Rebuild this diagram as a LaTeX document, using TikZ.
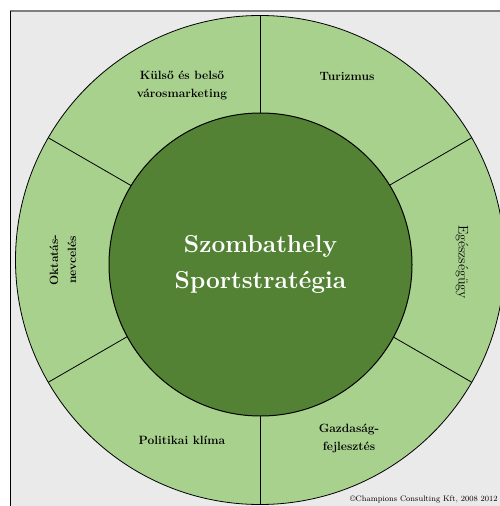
\documentclass[tikz,border=0pt]{standalone}
\usepackage{fontspec}
\definecolor{lightgreen}{HTML}{A9D18E}
\definecolor{darkgreen}{HTML}{548235}
\definecolor{backgray}{HTML}{EAEAEA}
\definecolor{framegray}{HTML}{7F7F7F}

\begin{document}
\begin{tikzpicture}[x=1pt, y=-1pt,
    topic/.style={font=\fontsize{12}{18}\selectfont\bfseries, align=center, text=black, inner sep=0pt},
    core/.style={draw, circle, fill=darkgreen, text=white, line width=1pt, minimum size=303pt, inner sep=0pt, font=\fontsize{24.5}{36}\selectfont\bfseries, align=center}]
    \useasboundingbox (0,0) rectangle (500,506);
    \clip (0,0) rectangle (500,506);
    \fill[white] (0,0) rectangle (500,506);
    \fill[backgray] (10,11) rectangle (500,506);
    \draw[framegray, line width=1.5pt] (10,11) -- (500,11);
    \draw[black, line width=1pt] (10.5,11) -- (10.5,506);
    \coordinate (o) at (260,260);
    \draw[fill=lightgreen, line width=0.8pt] (o) circle (244.5);
    \foreach \a in {30,90,...,330}
        \draw[line width=0.8pt] (o) -- ++(\a:244.5);
    \node (sport) [core] at (260.5,264.5) {Szombathely\\Sportstratégia};
    \node (marketing) [topic] at (182,85) {Külső és belső\\városmarketing};
    \node (turizmus) [topic] at (347,76) {Turizmus};
    \node (oktatas) [topic, rotate=90] at (63,260) {Oktatás-\\nevcelés};
    \node (egeszseg) [topic, font=\fontsize{14}{18}\selectfont, rotate=-90] at (462,262) {Egészségügy};
    \node (politika) [topic] at (182,440) {Politikai klíma};
    \node (gazdasag) [topic] at (349,438) {Gazdaság-\\fejlesztés};
    \node (copy) [anchor=base west, inner sep=0pt, font=\fontsize{8}{10}\selectfont] at (350,501) {©Champions Consulting Kft, 2008 2012};
\end{tikzpicture}
\end{document}
